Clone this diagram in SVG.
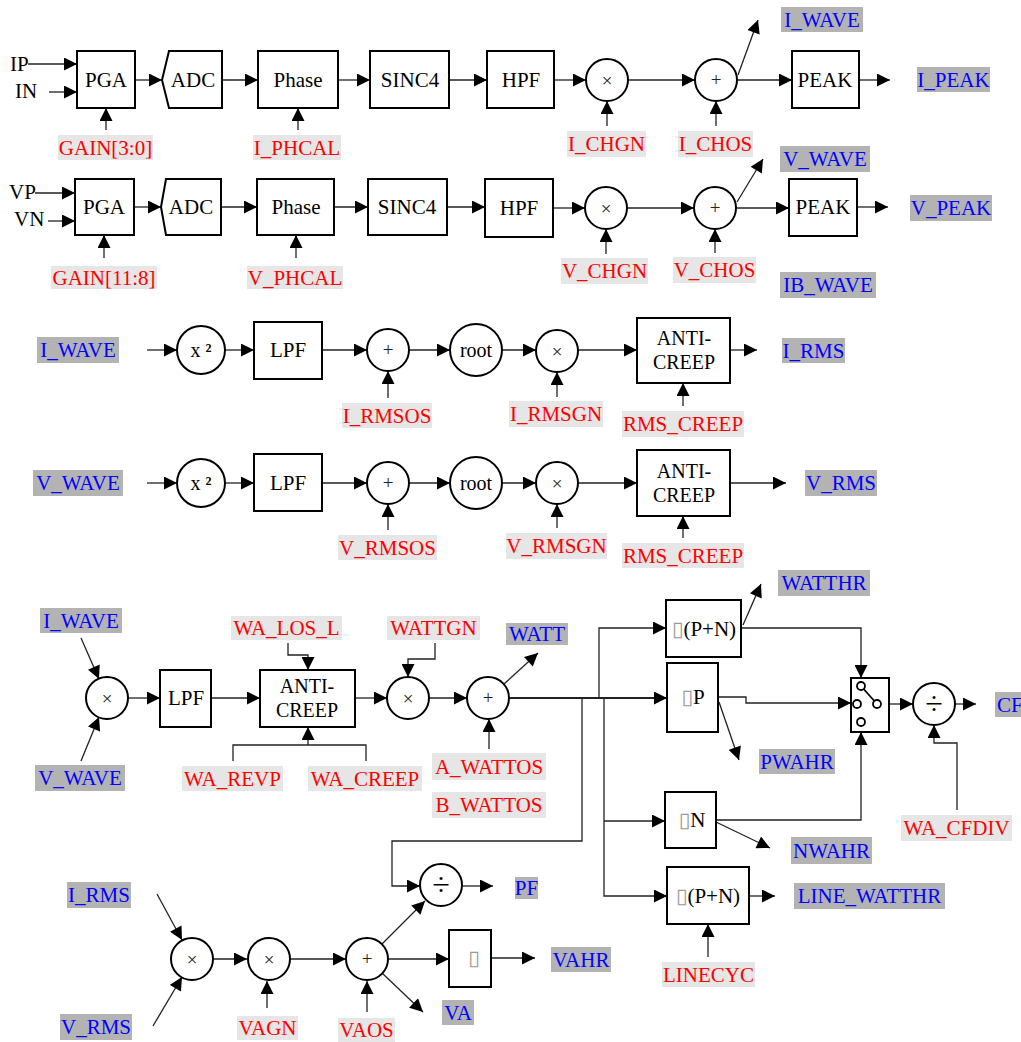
<svg xmlns="http://www.w3.org/2000/svg" width="1021" height="1042" viewBox="0 0 1021 1042">
<style>
.box{fill:#fff;stroke:#000;stroke-width:2}
.circ{fill:#fff;stroke:#000;stroke-width:2}
.sw{fill:#fff;stroke:#000;stroke-width:1.8}
.ln{fill:none;stroke:#222;stroke-width:1.3}
.ar{marker-end:url(#ah)}
text{font-family:"Liberation Serif","Times New Roman",serif;font-size:21px;text-anchor:middle;dominant-baseline:central;fill:#000}
.red{fill:#f00}
.blue{fill:#00f}
.bgr{fill:#e6e6e6}
.bgb{fill:#b3b3b3}
.op{font-size:19px;fill:#222}
.tofu{font-family:"DejaVu Sans",sans-serif;font-size:21px;fill:#999}
.lt{text-anchor:start}
</style>
<defs>
<marker id="ah" markerUnits="userSpaceOnUse" viewBox="0 0 14 14" markerWidth="14" markerHeight="13" refX="14" refY="7" orient="auto">
<path d="M0,0 L14,7 L0,14 z" fill="#000"/>
</marker>
</defs>

<g id="connectors">
<path class="ln ar" d="M28,64 H77"/>
<path class="ln ar" d="M49,92 H77"/>
<path class="ln ar" d="M135,80 H162"/>
<path class="ln ar" d="M222,80 H258"/>
<path class="ln ar" d="M338,80 H370"/>
<path class="ln ar" d="M449,80 H487"/>
<path class="ln ar" d="M554,80 H586"/>
<path class="ln ar" d="M628,80 H695"/>
<path class="ln ar" d="M737,80 H792"/>
<path class="ln ar" d="M859,80 H890"/>
<path class="ln ar" d="M738,75 L758,20"/>
<path class="ln ar" d="M106,130 V108"/>
<path class="ln ar" d="M298,130 V108"/>
<path class="ln ar" d="M607,126 V101"/>
<path class="ln ar" d="M716,126 V101"/>
<path class="ln ar" d="M35,193 H75"/>
<path class="ln ar" d="M48,221 H75"/>
<path class="ln ar" d="M134,207 H161"/>
<path class="ln ar" d="M221,207 H257"/>
<path class="ln ar" d="M334,207 H368"/>
<path class="ln ar" d="M447,207 H485"/>
<path class="ln ar" d="M553,208 H585"/>
<path class="ln ar" d="M627,208 H694"/>
<path class="ln ar" d="M736,208 H789"/>
<path class="ln ar" d="M857,207 H888"/>
<path class="ln ar" d="M737,202 L763,159"/>
<path class="ln ar" d="M104,258 V235"/>
<path class="ln ar" d="M296,258 V235"/>
<path class="ln ar" d="M606,254 V229"/>
<path class="ln ar" d="M715,253 V229"/>
<path class="ln ar" d="M147,350 H177"/>
<path class="ln ar" d="M225,350 H254"/>
<path class="ln ar" d="M322,350 H367"/>
<path class="ln ar" d="M409,350 H450"/>
<path class="ln ar" d="M502,350 H536"/>
<path class="ln ar" d="M578,350 H637"/>
<path class="ln ar" d="M730,350 H757"/>
<path class="ln ar" d="M388,398 V371"/>
<path class="ln ar" d="M557,397 V372"/>
<path class="ln ar" d="M683,406 V383"/>
<path class="ln ar" d="M147,483 H177"/>
<path class="ln ar" d="M225,483 H254"/>
<path class="ln ar" d="M322,483 H367"/>
<path class="ln ar" d="M409,483 H450"/>
<path class="ln ar" d="M502,483 H536"/>
<path class="ln ar" d="M578,483 H637"/>
<path class="ln ar" d="M730,483 H786"/>
<path class="ln ar" d="M388,530 V504"/>
<path class="ln ar" d="M557,528 V504"/>
<path class="ln ar" d="M683,538 V516"/>
<path class="ln ar" d="M81,638 L99,679"/>
<path class="ln ar" d="M81,761 L99,717"/>
<path class="ln ar" d="M128,698 H160"/>
<path class="ln ar" d="M211,698 H260"/>
<path class="ln ar" d="M355,698 H387"/>
<path class="ln ar" d="M429,698 H467"/>
<path class="ln ar" d="M504,684 L538,653"/>
<path class="ln ar" d="M288,643 V655 H308 V670"/>
<path class="ln ar" d="M435,643 V659 H408 V677"/>
<path class="ln ar" d="M308,745 V727"/>
<path class="ln" d="M233,761 V745 H366 V761"/>
<path class="ln ar" d="M489,749 V719"/>
<path class="ln ar" d="M509,698 H667" style="stroke-width:1.8"/>
<path class="ln ar" d="M599,698 V628 H666"/>
<path class="ln ar" d="M582,698 V841 H392 V886 H420"/>
<path class="ln ar" d="M604,698 V896 H667"/>
<path class="ln ar" d="M604,821 H665"/>
<path class="ln ar" d="M743,625 L761,584"/>
<path class="ln ar" d="M741,628 H861 V678"/>
<path class="ln ar" d="M718,697 H746 V703 H851"/>
<path class="ln ar" d="M719,702 L739,760"/>
<path class="ln ar" d="M889,704 H913"/>
<path class="ln ar" d="M955,704 H976"/>
<path class="ln ar" d="M957,810 V743 H934 V725"/>
<path class="ln ar" d="M716,820 H861 V732"/>
<path class="ln ar" d="M716,822 L770,848"/>
<path class="ln ar" d="M749,896 H775"/>
<path class="ln ar" d="M708,957 V924"/>
<path class="ln ar" d="M157,894 L182,940"/>
<path class="ln ar" d="M153,1026 L182,977"/>
<path class="ln ar" d="M213,959 H247"/>
<path class="ln ar" d="M290,959 H346"/>
<path class="ln ar" d="M267,1008 V981"/>
<path class="ln ar" d="M367,1012 V981"/>
<path class="ln ar" d="M382,944 L425,901"/>
<path class="ln ar" d="M463,886 H493"/>
<path class="ln ar" d="M388,959 H449"/>
<path class="ln ar" d="M491,958 H535"/>
<path class="ln ar" d="M382,973 L423,1012"/>
</g>

<g id="inputs1"><text class="lt" x="10" y="64">IP</text><text class="lt" x="15" y="91">IN</text></g>
<g id="pga1"><rect class="box" x="77" y="51" width="58" height="57"/><text x="106" y="80">PGA</text></g>
<g id="adc1"><path class="box" d="M169,51 H222 V108 H169 L162,80 z"/><text x="193" y="80">ADC</text></g>
<g id="phase1"><rect class="box" x="258" y="51" width="80" height="57"/><text x="298" y="80">Phase</text></g>
<g id="sinc1"><rect class="box" x="370" y="51" width="79" height="57"/><text x="410" y="80">SINC4</text></g>
<g id="hpf1"><rect class="box" x="487" y="51" width="67" height="57"/><text x="521" y="80">HPF</text></g>
<g id="mul1"><circle class="circ" cx="607" cy="80" r="21"/><text class="op" x="607" y="80">×</text></g>
<g id="add1"><circle class="circ" cx="716" cy="80" r="21"/><text class="op" x="716" y="79">+</text></g>
<g id="peak1"><rect class="box" x="792" y="51" width="67" height="57"/><text x="825" y="80">PEAK</text></g>

<g id="inputs2"><text class="lt" x="9" y="192">VP</text><text class="lt" x="14" y="219">VN</text></g>
<g id="pga2"><rect class="box" x="75" y="179" width="59" height="56"/><text x="104" y="207">PGA</text></g>
<g id="adc2"><path class="box" d="M166,179 H221 V235 H166 L161,207 z"/><text x="191" y="207">ADC</text></g>
<g id="phase2"><rect class="box" x="257" y="179" width="77" height="56"/><text x="296" y="207">Phase</text></g>
<g id="sinc2"><rect class="box" x="368" y="179" width="79" height="56"/><text x="407" y="207">SINC4</text></g>
<g id="hpf2"><rect class="box" x="485" y="179" width="68" height="58"/><text x="519" y="208">HPF</text></g>
<g id="mul2"><circle class="circ" cx="606" cy="208" r="21"/><text class="op" x="606" y="208">×</text></g>
<g id="add2"><circle class="circ" cx="715" cy="208" r="21"/><text class="op" x="715" y="207">+</text></g>
<g id="peak2"><rect class="box" x="789" y="179" width="68" height="57"/><text x="823" y="207">PEAK</text></g>

<g id="sq3"><circle class="circ" cx="201" cy="350" r="24"/><text x="201" y="350" style="font-size:20px">x <tspan style="font-weight:bold">²</tspan></text></g>
<g id="lpf3"><rect class="box" x="254" y="322" width="68" height="57"/><text x="288" y="350">LPF</text></g>
<g id="add3"><circle class="circ" cx="388" cy="350" r="21"/><text class="op" x="388" y="349">+</text></g>
<g id="root3"><circle class="circ" cx="476" cy="350" r="26"/><text x="476" y="350" style="font-size:20px">root</text></g>
<g id="mul3"><circle class="circ" cx="557" cy="351" r="21"/><text class="op" x="557" y="351">×</text></g>
<g id="creep3"><rect class="box" x="637" y="318" width="93" height="65"/><text x="684" y="338" style="font-size:20px">ANTI-</text><text x="684" y="362" style="font-size:20px">CREEP</text></g>

<g id="sq4"><circle class="circ" cx="201" cy="483" r="24"/><text x="201" y="483" style="font-size:20px">x <tspan style="font-weight:bold">²</tspan></text></g>
<g id="lpf4"><rect class="box" x="254" y="454" width="68" height="57"/><text x="288" y="483">LPF</text></g>
<g id="add4"><circle class="circ" cx="388" cy="483" r="21"/><text class="op" x="388" y="482">+</text></g>
<g id="root4"><circle class="circ" cx="476" cy="483" r="26"/><text x="476" y="483" style="font-size:20px">root</text></g>
<g id="mul4"><circle class="circ" cx="557" cy="483" r="21"/><text class="op" x="557" y="483">×</text></g>
<g id="creep4"><rect class="box" x="637" y="450" width="93" height="66"/><text x="684" y="471" style="font-size:20px">ANTI-</text><text x="684" y="495" style="font-size:20px">CREEP</text></g>

<g id="mul5"><circle class="circ" cx="107" cy="698" r="21"/><text class="op" x="107" y="698">×</text></g>
<g id="lpf5"><rect class="box" x="160" y="670" width="51" height="57"/><text x="186" y="698">LPF</text></g>
<g id="creep5"><rect class="box" x="260" y="670" width="95" height="57"/><text x="307" y="686" style="font-size:20px">ANTI-</text><text x="307" y="710" style="font-size:20px">CREEP</text></g>
<g id="mul6"><circle class="circ" cx="408" cy="698" r="21"/><text class="op" x="408" y="698">×</text></g>
<g id="add6"><circle class="circ" cx="488" cy="698" r="21"/><text class="op" x="488" y="697">+</text></g>
<g id="accPN"><rect class="box" x="666" y="600" width="75" height="57"/><text x="704" y="629"><tspan class="tofu">▯</tspan>(P+N)</text></g>
<g id="accP"><rect class="box" x="667" y="663" width="51" height="69"/><text x="693" y="697"><tspan class="tofu">▯</tspan>P</text></g>
<g id="accN"><rect class="box" x="665" y="792" width="51" height="56"/><text x="692" y="820"><tspan class="tofu">▯</tspan>N</text></g>
<g id="accLine"><rect class="box" x="667" y="867" width="82" height="57"/><text x="708" y="896"><tspan class="tofu">▯</tspan>(P+N)</text></g>
<g id="switch"><rect class="box" x="851" y="678" width="38" height="54"/>
<path d="M861,686 L877,704" stroke="#000" stroke-width="1.8"/>
<circle class="sw" cx="861" cy="686" r="4"/><circle class="sw" cx="857" cy="704" r="4"/><circle class="sw" cx="877" cy="704" r="4"/><circle class="sw" cx="861" cy="722" r="4"/></g>
<g id="div1"><circle class="circ" cx="934" cy="704" r="21"/><text x="934" y="703" style="font-size:32px">÷</text></g>

<g id="mul7"><circle class="circ" cx="192" cy="959" r="21"/><text class="op" x="192" y="959">×</text></g>
<g id="mul8"><circle class="circ" cx="269" cy="959" r="21"/><text class="op" x="269" y="959">×</text></g>
<g id="add8"><circle class="circ" cx="367" cy="959" r="21"/><text class="op" x="367" y="958">+</text></g>
<g id="div2"><circle class="circ" cx="441" cy="885" r="21"/><text x="441" y="884" style="font-size:32px">÷</text></g>
<g id="accVA"><rect class="box" x="449" y="930" width="42" height="57"/><text x="474" y="958"><tspan class="tofu">▯</tspan></text></g>

<g id="redLabels">
<rect class="bgr" x="58" y="135" width="95" height="25"/><text class="red" x="105.5" y="147.5">GAIN[3:0]</text>
<rect class="bgr" x="253" y="135" width="88" height="25"/><text class="red" x="297" y="147.5">I_PHCAL</text>
<rect class="bgr" x="567" y="131" width="79" height="26"/><text class="red" x="606.5" y="144">I_CHGN</text>
<rect class="bgr" x="678" y="131" width="75" height="26"/><text class="red" x="715.5" y="144">I_CHOS</text>
<rect class="bgr" x="51" y="266" width="106" height="23"/><text class="red" x="104" y="277.5">GAIN[11:8]</text>
<rect class="bgr" x="247" y="266" width="96" height="23"/><text class="red" x="295" y="277.5">V_PHCAL</text>
<rect class="bgr" x="561" y="258" width="87" height="26"/><text class="red" x="604.5" y="271">V_CHGN</text>
<rect class="bgr" x="673" y="257" width="83" height="26"/><text class="red" x="714.5" y="270">V_CHOS</text>
<rect class="bgr" x="342" y="403" width="90" height="25"/><text class="red" x="387" y="415.5">I_RMSOS</text>
<rect class="bgr" x="509" y="401" width="94" height="26"/><text class="red" x="556" y="414">I_RMSGN</text>
<rect class="bgr" x="622" y="411" width="122" height="26"/><text class="red" x="683" y="424">RMS_CREEP</text>
<rect class="bgr" x="338" y="535" width="99" height="25"/><text class="red" x="387.5" y="547.5">V_RMSOS</text>
<rect class="bgr" x="506" y="533" width="101" height="26"/><text class="red" x="556.5" y="546">V_RMSGN</text>
<rect class="bgr" x="622" y="543" width="122" height="25"/><text class="red" x="683" y="555.5">RMS_CREEP</text>
<rect class="bgr" x="231" y="616" width="111" height="24"/><text class="red" x="286.5" y="628">WA_LOS_L</text>
<rect class="bgr" x="387" y="616" width="93" height="24"/><text class="red" x="433.5" y="628">WATTGN</text>
<rect class="bgr" x="182" y="766" width="101" height="25"/><text class="red" x="232.5" y="778.5">WA_REVP</text>
<rect class="bgr" x="308" y="766" width="114" height="25"/><text class="red" x="365" y="778.5">WA_CREEP</text>
<rect class="bgr" x="432" y="753" width="114" height="27"/><text class="red" x="489" y="766.5">A_WATTOS</text>
<rect class="bgr" x="432" y="792" width="114" height="26"/><text class="red" x="489" y="805">B_WATTOS</text>
<rect class="bgr" x="901" y="815" width="111" height="26"/><text class="red" x="956.5" y="828">WA_CFDIV</text>
<rect class="bgr" x="662" y="962" width="93" height="25"/><text class="red" x="708.5" y="974.5">LINECYC</text>
<rect class="bgr" x="237" y="1016" width="61" height="24"/><text class="red" x="267.5" y="1028">VAGN</text>
<rect class="bgr" x="338" y="1018" width="57" height="24"/><text class="red" x="366.5" y="1030">VAOS</text>
</g>

<g id="blueLabels">
<rect class="bgb" x="781" y="7" width="82" height="25"/><text class="blue" x="822" y="19.5">I_WAVE</text>
<rect class="bgb" x="917" y="67" width="73" height="25"/><text class="blue" x="953.5" y="79.5">I_PEAK</text>
<rect class="bgb" x="780" y="146" width="90" height="26"/><text class="blue" x="825" y="159">V_WAVE</text>
<rect class="bgb" x="910" y="195" width="82" height="26"/><text class="blue" x="951" y="208">V_PEAK</text>
<rect class="bgb" x="780" y="272" width="96" height="26"/><text class="blue" x="828" y="285">IB_WAVE</text>
<rect class="bgb" x="37" y="337" width="82" height="26"/><text class="blue" x="78" y="350">I_WAVE</text>
<rect class="bgb" x="782" y="338" width="63" height="25"/><text class="blue" x="813.5" y="350.5">I_RMS</text>
<rect class="bgb" x="33" y="470" width="90" height="26"/><text class="blue" x="78" y="483">V_WAVE</text>
<rect class="bgb" x="805" y="470" width="72" height="26"/><text class="blue" x="841" y="483">V_RMS</text>
<rect class="bgb" x="40" y="608" width="82" height="25"/><text class="blue" x="81" y="620.5">I_WAVE</text>
<rect class="bgb" x="35" y="765" width="90" height="26"/><text class="blue" x="80" y="778">V_WAVE</text>
<rect class="bgb" x="506" y="623" width="62" height="22"/><text class="blue" x="537" y="634">WATT</text>
<rect class="bgb" x="778" y="570" width="92" height="26"/><text class="blue" x="824" y="583">WATTHR</text>
<rect class="bgb" x="759" y="749" width="76" height="25"/><text class="blue" x="797" y="761.5">PWAHR</text>
<rect class="bgb" x="995" y="692" width="26" height="25"/><text class="blue lt" x="997" y="704.5">CF</text>
<rect class="bgb" x="791" y="837" width="81" height="27"/><text class="blue" x="831.5" y="850.5">NWAHR</text>
<rect class="bgb" x="794" y="883" width="151" height="26"/><text class="blue" x="869.5" y="896">LINE_WATTHR</text>
<rect class="bgb" x="67" y="882" width="64" height="26"/><text class="blue" x="99" y="895">I_RMS</text>
<rect class="bgb" x="60" y="1014" width="72" height="26"/><text class="blue" x="96" y="1027">V_RMS</text>
<rect class="bgb" x="515" y="877" width="23" height="22"/><text class="blue" x="526.5" y="888">PF</text>
<rect class="bgb" x="551" y="947" width="60" height="25"/><text class="blue" x="581" y="959.5">VAHR</text>
<rect class="bgb" x="442" y="1000" width="32" height="25"/><text class="blue" x="458" y="1012.5">VA</text>
</g>
</svg>
